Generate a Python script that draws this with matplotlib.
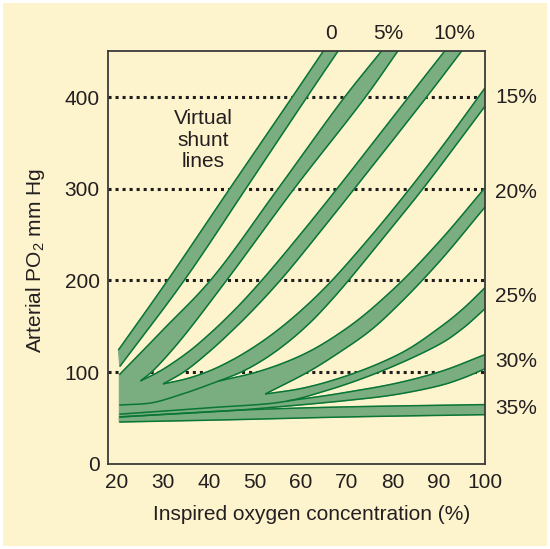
import matplotlib
matplotlib.use("Agg")
import matplotlib.pyplot as plt
from matplotlib.patches import Rectangle
import numpy as np

plt.rcParams["font.family"] = ["Liberation Sans", "DejaVu Sans"]
plt.rcParams["mathtext.default"] = "regular"

# shunt bands: (x = inspired O2 %, y = arterial PO2 mmHg)
s0_up_x = [20.3, 31.0, 44.5, 58.1, 65.1]
s0_up_y = [124, 200, 300, 400, 452]
s0_lo_x = [20.6, 34.6, 48.0, 61.3, 68.3]
s0_lo_y = [106, 200, 300, 400, 452]

s5_up_x = [20.5, 30.0, 40.3, 55.0, 69.5, 77.8]
s5_up_y = [97, 146, 200, 300, 400, 452]
s5_lo_x = [25.1, 27.5, 33.0, 43.8, 58.5, 74.0, 81.3]
s5_lo_y = [90.3, 100, 130, 200, 300, 400, 452]

s10_up_x = [25.1, 29.0, 35.0, 40.0, 46.0, 52.0, 60.0, 68.0, 83.7, 92.0]
s10_up_y = [90.3, 100, 120, 141, 170, 203, 251, 301, 402, 455]
s10_lo_x = [30.0, 34.5, 40.0, 45.0, 50.0, 56.0, 64.0, 72.4, 87.3, 95.2]
s10_lo_y = [87.0, 100, 122, 145, 170, 203, 252, 305, 400, 452]

s15_up_x = [30.0, 35.0, 40.0, 45.0, 50.0, 55.0, 60.0, 66.0, 75.0, 83.0, 91.0, 100.0]
s15_up_y = [87.0, 92.5, 101, 113, 128, 146, 167, 196, 247, 296, 348, 410]
s15_lo_x = [20.5, 27.0, 33.0, 42.0, 47.0, 52.0, 57.0, 62.0, 66.0, 70.0, 78.0, 86.5, 100.0]
s15_lo_y = [64, 66, 74, 90, 100, 114, 132, 154, 175, 198, 247, 300, 390]

s20_up_x = [42.0, 50.4, 60.0, 70.0, 80.0, 90.0, 100.0]
s20_up_y = [90, 100, 118, 148, 190, 242, 301]
s20_lo_x = [52.2, 61.5, 68.5, 75.0, 81.5, 90.0, 100.0]
s20_lo_y = [76, 100, 122, 145, 175, 220, 280]

s25_up_x = [52.2, 60.0, 70.0, 81.5, 90.0, 95.0, 100.0]
s25_up_y = [76, 82, 96, 120, 148, 168, 192]
s25_lo_x = [20.5, 40.0, 55.4, 65.0, 77.0, 90.0, 95.0, 100.0]
s25_lo_y = [54, 61, 67, 79, 100, 130, 147, 169]

s30_up_x = [57.0, 65.0, 70.0, 80.0, 90.0, 100.0]
s30_up_y = [68.5, 74, 78, 87, 100, 119]
s30_lo_x = [20.5, 45.0, 55.0, 70.0, 80.0, 90.0, 95.0, 100.0]
s30_lo_y = [51, 58, 62, 69, 75, 85, 93, 103.5]

s35_up_x = [20.5, 45.0, 55.0, 70.0, 100.0]
s35_up_y = [51, 58, 60, 62, 64.5]
s35_lo_x = [20.5, 45.0, 70.0, 100.0]
s35_lo_y = [45.5, 48, 51, 53.5]

# where the bands fuse on the left
blob_x = [20.5, 25.1, 30.0, 42.0, 52.2, 57.0, 45.0, 20.5]
blob_y = [97, 90.3, 87.0, 90, 76, 68.5, 58, 45.5]

top_labels = ["0", "5%", "10%"]
top_label_x = [66.6, 79.0, 93.3]
right_labels = ["15%", "20%", "25%", "30%", "35%"]
right_label_y = [399, 296, 182, 112, 60]
grid_levels = [100, 200, 300, 400]
x_ticks = [20, 30, 40, 50, 60, 70, 80, 90, 100]
y_ticks = [0, 100, 200, 300, 400]

cream = "#FDF3CD"
fill_c = "#7AAD80"
edge_c = "#0A7636"
text_c = "#231F20"
fs = 15

bands = [
    (s0_up_x, s0_up_y, s0_lo_x, s0_lo_y),
    (s5_up_x, s5_up_y, s5_lo_x, s5_lo_y),
    (s10_up_x, s10_up_y, s10_lo_x, s10_lo_y),
    (s15_up_x, s15_up_y, s15_lo_x, s15_lo_y),
    (s20_up_x, s20_up_y, s20_lo_x, s20_lo_y),
    (s25_up_x, s25_up_y, s25_lo_x, s25_lo_y),
    (s30_up_x, s30_up_y, s30_lo_x, s30_lo_y),
    (s35_up_x, s35_up_y, s35_lo_x, s35_lo_y),
]


def smooth(xs, ys, n=16):
    # centripetal catmull-rom through the read points, only for drawing
    p = np.column_stack([xs, ys]).astype(float)
    p = np.vstack([2 * p[0] - p[1], p, 2 * p[-1] - p[-2]])
    out = [p[1]]
    for i in range(1, len(p) - 2):
        p0, p1, p2, p3 = p[i - 1], p[i], p[i + 1], p[i + 2]
        t0 = 0.0
        t1 = t0 + np.linalg.norm(p1 - p0) ** 0.5
        t2 = t1 + np.linalg.norm(p2 - p1) ** 0.5
        t3 = t2 + np.linalg.norm(p3 - p2) ** 0.5
        for t in np.linspace(t1, t2, n)[1:]:
            a1 = (t1 - t) / (t1 - t0) * p0 + (t - t0) / (t1 - t0) * p1
            a2 = (t2 - t) / (t2 - t1) * p1 + (t - t1) / (t2 - t1) * p2
            a3 = (t3 - t) / (t3 - t2) * p2 + (t - t2) / (t3 - t2) * p3
            b1 = (t2 - t) / (t2 - t0) * a1 + (t - t0) / (t2 - t0) * a2
            b2 = (t3 - t) / (t3 - t1) * a2 + (t - t1) / (t3 - t1) * a3
            out.append((t2 - t) / (t2 - t1) * b1 + (t - t1) / (t2 - t1) * b2)
    out = np.array(out)
    return out[:, 0], out[:, 1]


fig = plt.figure(figsize=(5.5, 5.49), dpi=100)
fig.patch.set_facecolor("white")
fig.add_artist(Rectangle((3 / 550, 3 / 549), 1 - 6 / 550, 1 - 6 / 549,
                         transform=fig.transFigure, facecolor=cream,
                         edgecolor="none", zorder=-10))

ax = fig.add_axes([108 / 550, 1 - 463.7 / 549, 377 / 550, 412.5 / 549])
ax.set_facecolor(cream)
ax.set_xlim(18.04, 100)
ax.set_ylim(0, 450)

for lvl in grid_levels:
    ax.axhline(lvl, color="#1E1E1E", lw=2.2, ls=(0, (1, 1.3)), zorder=1)

ax.fill(blob_x, blob_y, facecolor=fill_c, edgecolor=fill_c, lw=0.8, zorder=2)
curves = []
for ux, uy, lx, ly in bands:
    sux, suy = smooth(ux, uy)
    slx, sly = smooth(lx, ly)
    curves.append((sux, suy))
    curves.append((slx, sly))
    ax.fill(np.concatenate([sux, slx[::-1]]), np.concatenate([suy, sly[::-1]]),
            facecolor=fill_c, edgecolor=fill_c, lw=0.8, zorder=2)
for cx, cy in curves:
    ax.plot(cx, cy, color=edge_c, lw=1.1, zorder=3, solid_capstyle="butt")

for s in ax.spines.values():
    s.set_color("#3A3A3A")
    s.set_linewidth(1.3)
    s.set_zorder(5)

ax.set_xticks(x_ticks)
ax.set_yticks(y_ticks)
ax.tick_params(length=0, labelsize=fs, colors=text_c)
ax.tick_params(axis="x", pad=7)
ax.tick_params(axis="y", pad=6)

for lab, x in zip(top_labels, top_label_x):
    ax.text(x, 469, lab, ha="center", va="center", fontsize=fs,
            color=text_c, clip_on=False)
for lab, y in zip(right_labels, right_label_y):
    ax.text(102.2, y, lab, ha="left", va="center", fontsize=fs,
            color=text_c, clip_on=False)

ax.text(38.8, 353, "Virtual\nshunt\nlines", ha="center", va="center",
        fontsize=fs, color=text_c, linespacing=1.15, zorder=4)

fig.text(312 / 550, 1 - 514 / 549, "Inspired oxygen concentration (%)",
         ha="center", va="center", fontsize=fs, color=text_c)
fig.text(36 / 550, 1 - 261 / 549, "Arterial PO$_2$ mm Hg", rotation=90,
         ha="center", va="center", fontsize=fs, color=text_c)

fig.savefig("out.png", dpi=100, facecolor=fig.get_facecolor())
